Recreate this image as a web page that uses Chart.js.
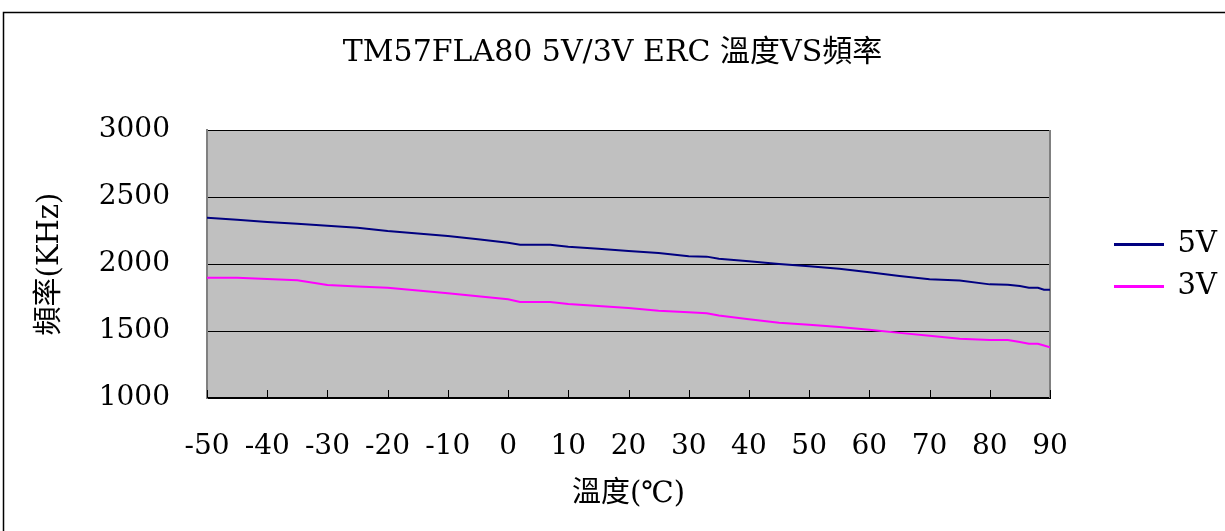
<!DOCTYPE html>
<html>
<head>
<meta charset="utf-8">
<script src="https://cdn.jsdelivr.net/npm/chart.js@4/dist/chart.umd.min.js"></script>
<style>
  html, body { margin: 0; padding: 0; background: #fff; }
  #wrap { width: 1225px; height: 531px; }
</style>
</head>
<body>
<div id="wrap"><canvas id="myChart" width="1225" height="531"></canvas></div>
<script>
// temperature (°C) and frequency (KHz)
const temps = [-50, -45, -40, -35, -30, -25, -20, -15, -10, -5,
    0, 2, 7, 10, 15, 20, 25, 30, 33, 35,
    40, 45, 50, 55, 60, 65, 70, 75, 80, 83,
    85, 86.5, 88, 89, 90];

const freq5V = [2345, 2330, 2313, 2300, 2286, 2271, 2246, 2228, 2209, 2184,
    2159, 2144, 2144, 2129, 2113, 2097, 2082, 2057, 2055, 2040,
    2020, 2000, 1983, 1965, 1938, 1910, 1886, 1876, 1848, 1846,
    1836, 1823, 1823, 1808, 1808];

const freq3V = [1898, 1898, 1888, 1878, 1843, 1833, 1823, 1802, 1781, 1759,
    1737, 1717, 1717, 1702, 1687, 1672, 1652, 1640, 1632, 1615,
    1588, 1562, 1546, 1530, 1510, 1486, 1465, 1442, 1433, 1433,
    1418, 1405, 1405, 1392, 1379];

const seriesNames = ['5V', '3V'];
const xTicks = [-50, -40, -30, -20, -10, 0, 10, 20, 30, 40, 50, 60, 70, 80, 90];
const yTicks = [1000, 1500, 2000, 2500, 3000];

const FONT = "'DejaVu Serif', 'Noto Sans CJK TC', serif";
Chart.defaults.font.family = FONT;
Chart.defaults.color = '#000';

const toPoints = arr => temps.map((t, i) => ({ x: t, y: arr[i] }));

// plot background, frame and little inside tick marks
const frame = {
    id: 'frame',
    beforeDraw(chart) {
        const ctx = chart.ctx;
        const a = chart.chartArea;
        ctx.save();
        ctx.fillStyle = '#fff';
        ctx.fillRect(0, 0, chart.width, chart.height);
        ctx.strokeStyle = '#000';
        ctx.lineWidth = 1.5;
        ctx.beginPath();
        ctx.moveTo(3.5, chart.height);
        ctx.lineTo(3.5, 12.5);
        ctx.lineTo(chart.width, 12.5);
        ctx.stroke();
        ctx.fillStyle = '#c0c0c0';
        ctx.fillRect(a.left, a.top, a.right - a.left, a.bottom - a.top);
        ctx.restore();
    },
    beforeDatasetsDraw(chart) {
        const ctx = chart.ctx;
        const a = chart.chartArea;
        const xs = chart.scales.x;
        ctx.save();
        ctx.strokeStyle = '#808080';
        ctx.lineWidth = 2;
        ctx.beginPath();
        ctx.moveTo(a.right, a.top);
        ctx.lineTo(a.right, a.bottom);
        ctx.stroke();
        ctx.strokeStyle = '#000';
        ctx.lineWidth = 1;
        xTicks.forEach(v => {
            const px = Math.round(xs.getPixelForValue(v)) + 0.5;
            ctx.beginPath();
            ctx.moveTo(px, a.bottom);
            ctx.lineTo(px, a.bottom - 8);
            ctx.stroke();
        });
        ctx.restore();
    }
};

const config = {
    type: 'line',
    data: {
        datasets: [{
            label: seriesNames[0],
            data: toPoints(freq5V),
            borderColor: '#000080',
            backgroundColor: '#000080',
            borderWidth: 2,
            pointRadius: 0,
            tension: 0
        }, {
            label: seriesNames[1],
            data: toPoints(freq3V),
            borderColor: '#ff00ff',
            backgroundColor: '#ff00ff',
            borderWidth: 2,
            pointRadius: 0,
            tension: 0
        }]
    },
    options: {
        responsive: false,
        animation: false,
        devicePixelRatio: 1,
        layout: { padding: 0 },
        plugins: {
            title: {
                display: true,
                text: 'TM57FLA80 5V/3V ERC 溫度VS頻率',
                color: '#000',
                font: { size: 30, weight: 'normal' },
                padding: { top: 35, bottom: 59 }
            },
            legend: {
                position: 'right',
                maxWidth: 123,
                labels: {
                    boxWidth: 48,
                    boxHeight: 1,
                    padding: 13,
                    color: '#000',
                    font: { size: 29 }
                }
            },
            tooltip: { enabled: false }
        },
        scales: {
            x: {
                type: 'linear',
                min: -50,
                max: 90,
                afterBuildTicks: s => { s.ticks = xTicks.map(v => ({ value: v })); },
                afterFit: s => { s.height = 133; },
                grid: { display: false, drawTicks: false },
                border: { display: true, color: '#000', width: 2 },
                ticks: { padding: 32, font: { size: 28 }, color: '#000', callback: v => String(v) },
                title: {
                    display: true,
                    text: '溫度(℃)',
                    font: { size: 29 },
                    color: '#000',
                    padding: { top: 0, bottom: 19 }
                }
            },
            y: {
                min: 1000,
                max: 3000,
                afterBuildTicks: s => { s.ticks = yTicks.map(v => ({ value: v })); },
                afterFit: s => { s.width = 207; },
                grid: { color: '#000', lineWidth: 1, drawTicks: false },
                border: { display: true, color: '#808080', width: 2 },
                ticks: { padding: 37, font: { size: 28 }, color: '#000', callback: v => String(v) },
                title: {
                    display: true,
                    text: '頻率(KHz)',
                    font: { size: 29 },
                    color: '#000',
                    padding: { top: 33, bottom: 0 }
                }
            },
            yPad: {
                position: 'right',
                display: true,
                grid: { display: false, drawTicks: false },
                border: { display: false },
                ticks: { display: false },
                afterFit: s => { s.width = 52; }
            }
        }
    },
    plugins: [frame]
};

var myChart = new Chart(
    document.getElementById('myChart'),
    config
);
</script>
</body>
</html>
